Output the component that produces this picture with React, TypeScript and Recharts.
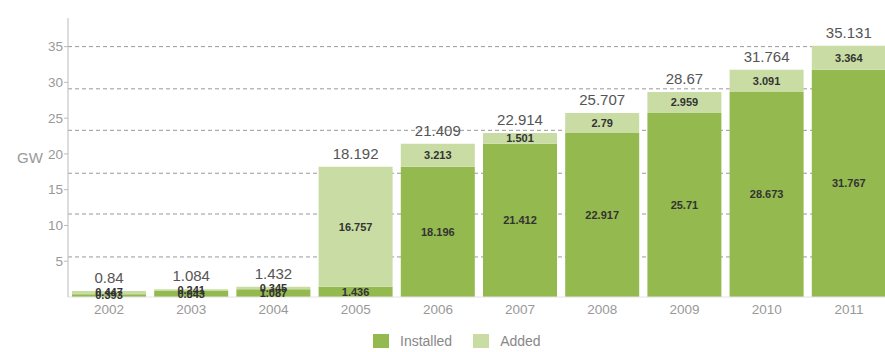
import React from 'react';
import { BarChart, Bar, XAxis, YAxis, CartesianGrid, LabelList, Legend } from 'recharts';

const years = ['2002', '2003', '2004', '2005', '2006', '2007', '2008', '2009', '2010', '2011'];
const installed = [0.393, 0.843, 1.087, 1.436, 18.196, 21.412, 22.917, 25.71, 28.673, 31.767];
const added = [0.447, 0.241, 0.345, 16.757, 3.213, 1.501, 2.79, 2.959, 3.091, 3.364];
const totals = [0.84, 1.084, 1.432, 18.192, 21.409, 22.914, 25.707, 28.67, 31.764, 35.131];
const yTicks = [5, 10, 15, 20, 25, 30, 35];
const gridValues = [35, 29.1, 23.3, 17.3, 11.6, 5.6];
const seriesNames = ['Installed', 'Added'];
const yUnit = 'GW';

const data = years.map((year, i) => ({
  year,
  installed: installed[i],
  added: added[i],
  total: totals[i],
}));

const COLORS = { installed: '#93b94f', added: '#c8dca4' };
const FONT = '"Liberation Sans", Arial, Helvetica, sans-serif';

function LegendContent() {
  return (
    <div
      style={{
        display: 'flex',
        alignItems: 'center',
        height: 22,
        paddingLeft: 373,
        fontSize: 14,
        color: '#888',
        fontFamily: FONT,
      }}
    >
      <span style={{ width: 16, height: 14, background: COLORS.installed, display: 'inline-block' }} />
      <span style={{ marginLeft: 11 }}>{seriesNames[0]}</span>
      <span
        style={{ width: 16, height: 14, background: COLORS.added, display: 'inline-block', marginLeft: 21 }}
      />
      <span style={{ marginLeft: 11 }}>{seriesNames[1]}</span>
    </div>
  );
}

export default function App() {
  return (
    <div
      style={{
        position: 'fixed',
        left: 0,
        top: 0,
        width: 885,
        height: 352,
        overflow: 'hidden',
        background: '#fff',
        fontFamily: FONT,
      }}
    >
      <BarChart
        width={900}
        height={352}
        data={data}
        margin={{ top: 18, right: 10, left: 0, bottom: 0 }}
        barCategoryGap={4}
      >
        <CartesianGrid
          vertical={false}
          horizontalValues={gridValues}
          stroke="#999"
          strokeDasharray="4 3"
        />
        <XAxis
          dataKey="year"
          height={33}
          tickSize={0}
          tickMargin={7}
          axisLine={{ stroke: '#e2e2e2' }}
          tick={{ fill: '#999', fontSize: 13.5 }}
          interval={0}
        />
        <YAxis
          width={68}
          domain={[0, 39]}
          ticks={yTicks}
          tickSize={4}
          tickMargin={1}
          axisLine={{ stroke: '#bbb' }}
          tickLine={{ stroke: '#bbb' }}
          tick={{ fill: '#999', fontSize: 13.5 }}
          label={{ value: yUnit, position: 'insideLeft', offset: 17, fill: '#999', fontSize: 15 }}
        />
        <Legend verticalAlign="bottom" align="left" wrapperStyle={{ left: 0, bottom: 0, width: 900 }} content={LegendContent} />
        <Bar dataKey="installed" stackId="a" fill={COLORS.installed} isAnimationActive={false} name={seriesNames[0]}>
          <LabelList dataKey="installed" position="center" fill="#333" fontSize={11} fontWeight="bold" />
        </Bar>
        <Bar dataKey="added" stackId="a" fill={COLORS.added} isAnimationActive={false} name={seriesNames[1]}>
          <LabelList dataKey="added" position="center" fill="#333" fontSize={11} fontWeight="bold" />
          <LabelList dataKey="total" position="top" offset={8} fill="#555" fontSize={15} />
        </Bar>
      </BarChart>
    </div>
  );
}
